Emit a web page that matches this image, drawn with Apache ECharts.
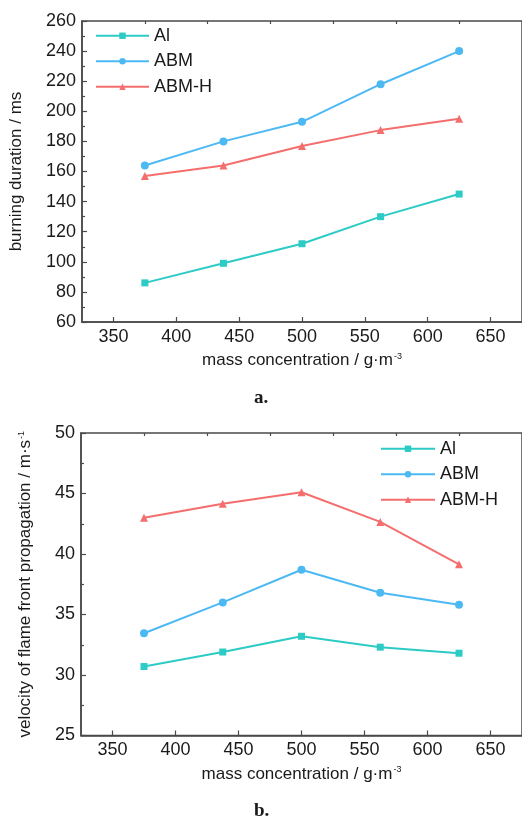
<!DOCTYPE html>
<html>
<head>
<meta charset="utf-8">
<script src="https://cdn.jsdelivr.net/npm/echarts@6/dist/echarts.min.js"></script>
<style>
html,body{margin:0;padding:0;background:#fff;}
#chart{width:522px;height:819px;}
</style>
</head>
<body>
<div id="chart"></div>
<script>
// ---- data ----
var concentration = [375, 437.5, 500, 562.5, 625];
var seriesNames = ['Al', 'ABM', 'ABM-H'];
// (a) burning duration / ms
var durationAl = [86, 99, 112, 130, 145];
var durationABM = [164, 180, 193, 218, 240];
var durationABMH = [157, 164, 177, 187.5, 195];
// (b) velocity of flame front propagation / m·s^-1
var velocityAl = [30.7, 31.9, 33.2, 32.3, 31.8];
var velocityABM = [33.45, 36.0, 38.7, 36.8, 35.8];
var velocityABMH = [43.0, 44.15, 45.1, 42.65, 39.15];
// tick labels
var xTickLabels = [350, 400, 450, 500, 550, 600, 650];
var xMinorTicks = [375, 425, 475, 525, 575, 625];
var yTicksA = [60, 80, 100, 120, 140, 160, 180, 200, 220, 240, 260];
var yTicksB = [25, 30, 35, 40, 45, 50];

var colors = ['#2ccbc5', '#4db9f3', '#f46e6e'];
var symbols = ['rect', 'circle', 'triangle'];
var symbolSizes = [7, 8, 8];
var FONT = "'Liberation Sans', Arial, sans-serif";
var AX = '#4a4a4a';
var TXT = '#1a1a1a';

function pairs(vals) {
  return concentration.map(function (x, i) { return [x, vals[i]]; });
}

var supRich = { sup: { fontSize: 9, fontFamily: FONT, color: TXT, verticalAlign: 'top', padding: [0, 0, 8, 1] } };

function mainX(gi, nameStr) {
  return {
    type: 'value', gridIndex: gi, min: 325, max: 675,
    axisLine: { show: true, lineStyle: { color: AX, width: 1.5 } },
    axisTick: { show: true, inside: true, length: 5, lineStyle: { color: AX, width: 1.2 }, customValues: xTickLabels },
    axisLabel: { show: true, customValues: xTickLabels, color: TXT, fontSize: 18, fontFamily: FONT, margin: 6 },
    splitLine: { show: false },
    name: nameStr, nameLocation: 'middle', nameGap: 30,
    nameTextStyle: { color: TXT, fontSize: 17, fontFamily: FONT, rich: supRich }
  };
}
function minorX(gi) {
  return {
    type: 'value', gridIndex: gi, min: 325, max: 675,
    axisLine: { show: false },
    axisTick: { show: true, inside: true, length: 3, lineStyle: { color: AX, width: 1.2 }, customValues: xMinorTicks },
    axisLabel: { show: false, customValues: xMinorTicks },
    splitLine: { show: false }
  };
}
function yAx(gi, ticks, nameStr, gap) {
  return {
    type: 'value', gridIndex: gi, min: ticks[0], max: ticks[ticks.length - 1],
    interval: ticks[1] - ticks[0],
    axisLine: { show: true, lineStyle: { color: AX, width: 1.5 } },
    axisTick: { show: true, inside: true, length: 5, lineStyle: { color: AX, width: 1.2 } },
    minorTick: { show: true, splitNumber: 2, length: 3, lineStyle: { color: AX, width: 1.2 } },
    axisLabel: { color: TXT, fontSize: 18, fontFamily: FONT, margin: 6 },
    splitLine: { show: false },
    name: nameStr, nameLocation: 'middle', nameGap: gap, nameRotate: 90,
    nameTextStyle: { color: TXT, fontSize: 17, fontFamily: FONT, rich: supRich }
  };
}

function mkSeries(xi, yi, vals, k) {
  return {
    type: 'line', name: seriesNames[k], xAxisIndex: xi, yAxisIndex: yi,
    data: pairs(vals), symbol: symbols[k], symbolSize: symbolSizes[k], showSymbol: true,
    lineStyle: { color: colors[k], width: 2 }, itemStyle: { color: colors[k] },
    animation: false, z: 3
  };
}

var legendText = { color: TXT, fontSize: 18, fontFamily: FONT, lineHeight: 20.5 };

var option = {
  backgroundColor: '#fff',
  animation: false,
  grid: [
    { left: 82, top: 21, width: 443, height: 301, show: true, borderColor: AX, borderWidth: 1.5, backgroundColor: 'transparent' },
    { left: 81, top: 433, width: 444, height: 302.5, show: true, borderColor: AX, borderWidth: 1.5, backgroundColor: 'transparent' }
  ],
  xAxis: [
    mainX(0, 'mass concentration / g·m{sup|-3}'),
    minorX(0),
    mainX(1, 'mass concentration / g·m{sup|-3}'),
    minorX(1)
  ],
  yAxis: [
    yAx(0, yTicksA, 'burning duration / ms', 57),
    yAx(1, yTicksB, 'velocity of flame front propagation / m·s{sup|-1}', 47)
  ],
  legend: [
    { data: seriesNames.slice(), orient: 'vertical', left: 95, top: 25.5, padding: 0, itemWidth: 53, itemHeight: 8, itemGap: 5,
      textStyle: legendText },
    { data: seriesNames.slice(), orient: 'vertical', left: 380, top: 438.5, padding: 0, itemWidth: 54, itemHeight: 8, itemGap: 5,
      textStyle: legendText }
  ],
  series: [
    mkSeries(0, 0, durationAl, 0),
    mkSeries(0, 0, durationABM, 1),
    mkSeries(0, 0, durationABMH, 2),
    mkSeries(2, 1, velocityAl, 0),
    mkSeries(2, 1, velocityABM, 1),
    mkSeries(2, 1, velocityABMH, 2)
  ],
  graphic: [
    { type: 'text', left: 254, top: 389, style: { text: 'a.', font: "bold 19px 'Liberation Serif', 'DejaVu Serif', serif", fill: TXT } },
    { type: 'text', left: 254, top: 802, style: { text: 'b.', font: "bold 19px 'Liberation Serif', 'DejaVu Serif', serif", fill: TXT } }
  ]
};

var chart = echarts.init(document.getElementById('chart'), null, { renderer: 'canvas' });
chart.setOption(option);
</script>
</body>
</html>
